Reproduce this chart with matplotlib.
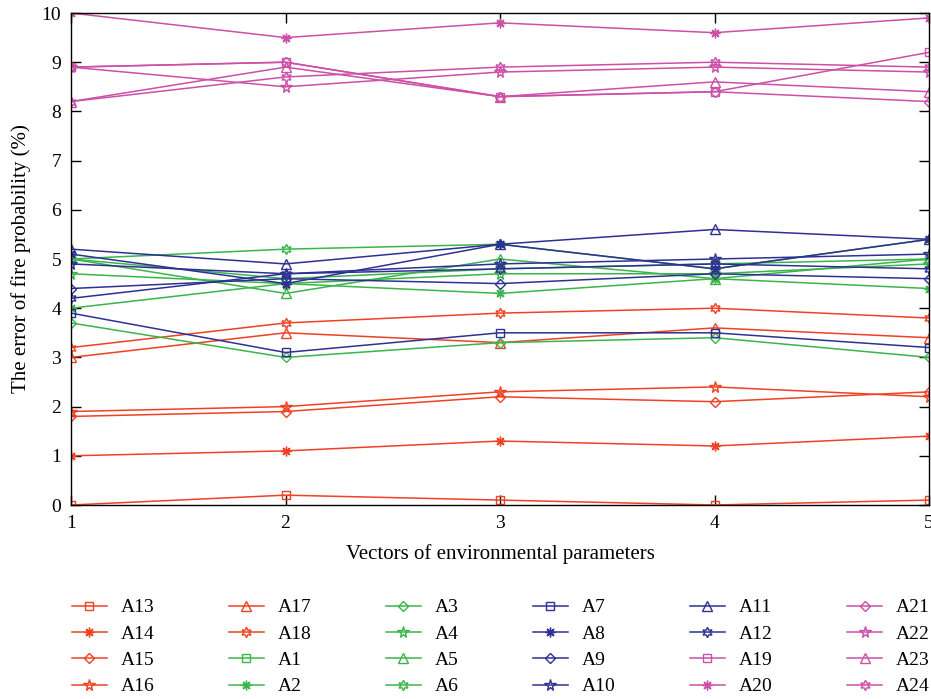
import numpy as np
import matplotlib
matplotlib.use('Agg')
import matplotlib.pyplot as plt

plt.rcParams['font.family'] = ['Liberation Serif', 'DejaVu Serif']

# x positions (vectors of environmental parameters)
x = [1, 2, 3, 4, 5]

# series values (error of fire probability, %)
A13 = [0.0, 0.2, 0.1, 0.0, 0.1]
A14 = [1.0, 1.1, 1.3, 1.2, 1.4]
A15 = [1.8, 1.9, 2.2, 2.1, 2.3]
A16 = [1.9, 2.0, 2.3, 2.4, 2.2]
A17 = [3.0, 3.5, 3.3, 3.6, 3.4]
A18 = [3.2, 3.7, 3.9, 4.0, 3.8]

A1 = [5.0, 4.6, 4.8, 4.9, 5.0]
A2 = [4.0, 4.5, 4.3, 4.6, 4.4]
A3 = [3.7, 3.0, 3.3, 3.4, 3.0]
A4 = [4.7, 4.5, 4.7, 4.7, 4.9]
A5 = [5.0, 4.3, 5.0, 4.6, 5.0]
A6 = [5.0, 5.2, 5.3, 4.8, 5.4]

A7 = [3.9, 3.1, 3.5, 3.5, 3.2]
A8 = [5.1, 4.5, 5.3, 4.8, 5.4]
A9 = [4.4, 4.6, 4.5, 4.7, 4.6]
A10 = [4.9, 4.7, 4.9, 5.0, 5.1]
A11 = [5.2, 4.9, 5.3, 5.6, 5.4]
A12 = [4.2, 4.7, 4.8, 4.9, 4.8]

A19 = [8.9, 9.0, 8.3, 8.4, 9.2]
A20 = [10.0, 9.5, 9.8, 9.6, 9.9]
A21 = [8.9, 9.0, 8.3, 8.4, 8.2]
A22 = [8.9, 8.5, 8.8, 8.9, 8.8]
A23 = [8.2, 8.9, 8.3, 8.6, 8.4]
A24 = [8.2, 8.7, 8.9, 9.0, 8.9]

# legend order (column-major, 6 columns x 4 rows)
names = ['A13', 'A14', 'A15', 'A16', 'A17', 'A18',
         'A1', 'A2', 'A3', 'A4', 'A5', 'A6',
         'A7', 'A8', 'A9', 'A10', 'A11', 'A12',
         'A19', 'A20', 'A21', 'A22', 'A23', 'A24']
series = [A13, A14, A15, A16, A17, A18,
          A1, A2, A3, A4, A5, A6,
          A7, A8, A9, A10, A11, A12,
          A19, A20, A21, A22, A23, A24]

group_colors = ['#EF4123', '#3AB54A', '#2E3192', '#CC4FA8']
markers = ['s', (8, 2, 0), 'D', '*', '^', (6, 1, 0)]
msizes = [5.5, 7, 5.5, 8.5, 7, 7.5]

fig = plt.figure(figsize=(9.31, 6.99), dpi=100)
ax = fig.add_axes([71 / 931, 1 - 505 / 699, (929 - 71) / 931, (505 - 13) / 699])

for i, (name, y) in enumerate(zip(names, series)):
    c = group_colors[i // 6]
    m = markers[i % 6]
    ax.plot(x, y, color=c, lw=1.1, marker=m, markersize=msizes[i % 6],
            markerfacecolor='none', markeredgecolor=c, markeredgewidth=1.0,
            label=name)

ax.set_xlim(1, 5)
ax.set_ylim(0, 10)
ax.set_xticks(x)
ax.set_yticks(range(0, 11))
ax.tick_params(direction='in', length=7, width=1, top=True, right=True,
               labelsize=14, pad=7)
for s in ax.spines.values():
    s.set_linewidth(1.0)
ax.set_xlabel('Vectors of environmental parameters', fontsize=15, labelpad=9)
ax.set_ylabel('The error of fire probability (%)', fontsize=15, labelpad=8)

fig.legend(loc='upper left', bbox_to_anchor=(62 / 931, 1 - 589 / 699),
           ncol=6, frameon=False, fontsize=14, borderpad=0,
           handlelength=1.8, handletextpad=0.72, columnspacing=3.82,
           labelspacing=0.45)

fig.savefig('out.png', dpi=100)
